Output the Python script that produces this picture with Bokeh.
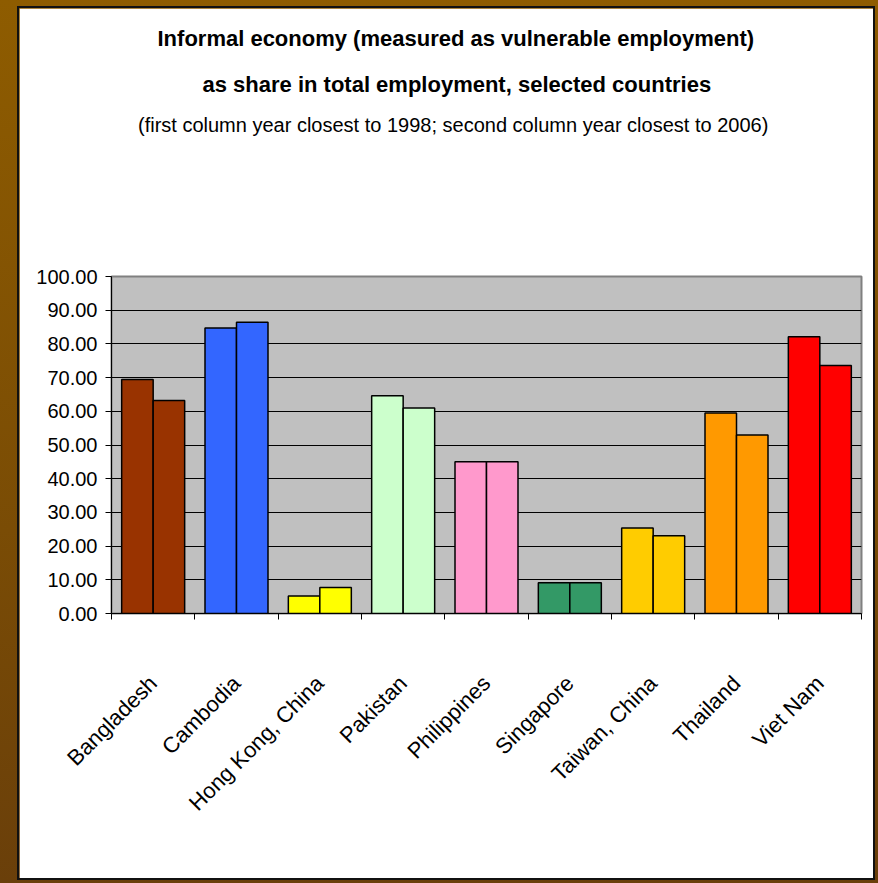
from math import pi

from bokeh.embed import file_html
from bokeh.layouts import column
from bokeh.models import (ColumnDataSource, FixedTicker, LinearAxis, PrintfTickFormatter,
                          Range1d, Title)
from bokeh.plotting import figure
from bokeh.resources import INLINE
from bokeh.transform import dodge

countries = ["Bangladesh", "Cambodia", "Hong Kong, China", "Pakistan", "Philippines",
             "Singapore", "Taiwan, China", "Thailand", "Viet Nam"]
share_first = [69.4, 84.7, 5.2, 64.6, 45.0, 9.1, 25.4, 59.5, 82.1]   # year closest to 1998
share_second = [63.2, 86.4, 7.7, 61.0, 45.0, 9.1, 23.1, 53.0, 73.6]  # year closest to 2006
bar_colors = ["#993300", "#3366FF", "#FFFF00", "#CCFFCC", "#FF99CC",
              "#339966", "#FFCC00", "#FF9900", "#FF0000"]
y_ticks = [0, 10, 20, 30, 40, 50, 60, 70, 80, 90, 100]

title_lines = ["Informal economy (measured as vulnerable employment)",
               "as share in total employment, selected countries"]
subtitle = "(first column year closest to 1998; second column year closest to 2006)"

FONT = "Liberation Sans"

n = len(countries)
centers = [i + 0.5 for i in range(n)]        # one unit slot per country
edges = list(range(n + 1))                   # slot boundaries carry the tick marks
heading_x = 4.1                              # horizontal centre of the heading, in slot units

source = ColumnDataSource(dict(pos=centers, country=countries, first=share_first,
                               second=share_second, color=bar_colors))

p = figure(x_range=Range1d(0, n), y_range=Range1d(0, 100),
           width=854, height=870, output_backend="svg", toolbar_location=None,
           x_axis_location=None, y_axis_location="left",
           min_border_left=92, min_border_right=12, min_border_top=268,
           min_border_bottom=265)
p.border_fill_color = "white"
p.background_fill_color = "#C0C0C0"
p.outline_line_color = "#808080"
p.outline_line_width = 2

bar_w = 0.378
p.vbar(x=dodge("pos", -bar_w / 2), top="first", width=bar_w, bottom=0, source=source,
       fill_color="color", line_color="black", line_width=1.5)
p.vbar(x=dodge("pos", bar_w / 2), top="second", width=bar_w, bottom=0, source=source,
       fill_color="color", line_color="black", line_width=1.5)

# y axis
yax = p.yaxis[0]
yax.ticker = FixedTicker(ticks=y_ticks)
yax.formatter = PrintfTickFormatter(format="%.2f")
yax.major_label_text_font = FONT
yax.major_label_text_font_size = "20px"
yax.major_label_text_color = "black"
yax.major_tick_out = 6
yax.major_tick_in = 0
yax.minor_tick_line_color = None
yax.axis_line_color = "black"
yax.major_label_standoff = 8

p.xgrid.visible = False
p.ygrid.ticker = FixedTicker(ticks=y_ticks[1:-1])
p.ygrid.grid_line_color = "black"
p.ygrid.grid_line_width = 1

# x axis: names under each pair of bars, tick marks between countries
name_axis = LinearAxis(ticker=FixedTicker(ticks=centers, minor_ticks=edges),
                       major_label_overrides={c: name for c, name in zip(centers, countries)},
                       major_tick_line_color=None, major_tick_out=0, major_tick_in=0,
                       minor_tick_line_color="black", minor_tick_out=6, minor_tick_in=0,
                       axis_line_color="black",
                       major_label_orientation=pi / 4, major_label_standoff=60,
                       major_label_text_font=FONT, major_label_text_font_size="22px",
                       major_label_text_color="black")
p.add_layout(name_axis, "below")

# subtitle, held well clear of the plot area by the label standoff
sub_axis = LinearAxis(ticker=FixedTicker(ticks=[heading_x]),
                      major_label_overrides={heading_x: subtitle},
                      axis_line_color=None, major_tick_line_color=None,
                      minor_tick_line_color=None, major_tick_out=0, major_tick_in=0,
                      minor_tick_out=0, major_label_standoff=141,
                      major_label_text_font=FONT, major_label_text_font_size="20px",
                      major_label_text_color="black")
p.add_layout(sub_axis, "above")

# bold heading lines, added from the subtitle upwards
for text, gap, shift in [(title_lines[1], 28, 91), (title_lines[0], 10, 46)]:
    p.add_layout(Title(text=text, align="left", offset=shift, text_font=FONT,
                       text_font_style="bold", text_font_size="22px", text_color="black",
                       standoff=gap), "above")

p.styles = {"outline": "2px solid #111111"}

page = column(p, width=878, height=883,
              styles={"background": "linear-gradient(180deg, #8e5c00 0%, #7a4c05 60%, #6a3f0a 100%)",
                      "padding-top": "8px", "padding-left": "19px"})

open("out.html", "w").write(file_html(page, INLINE))
